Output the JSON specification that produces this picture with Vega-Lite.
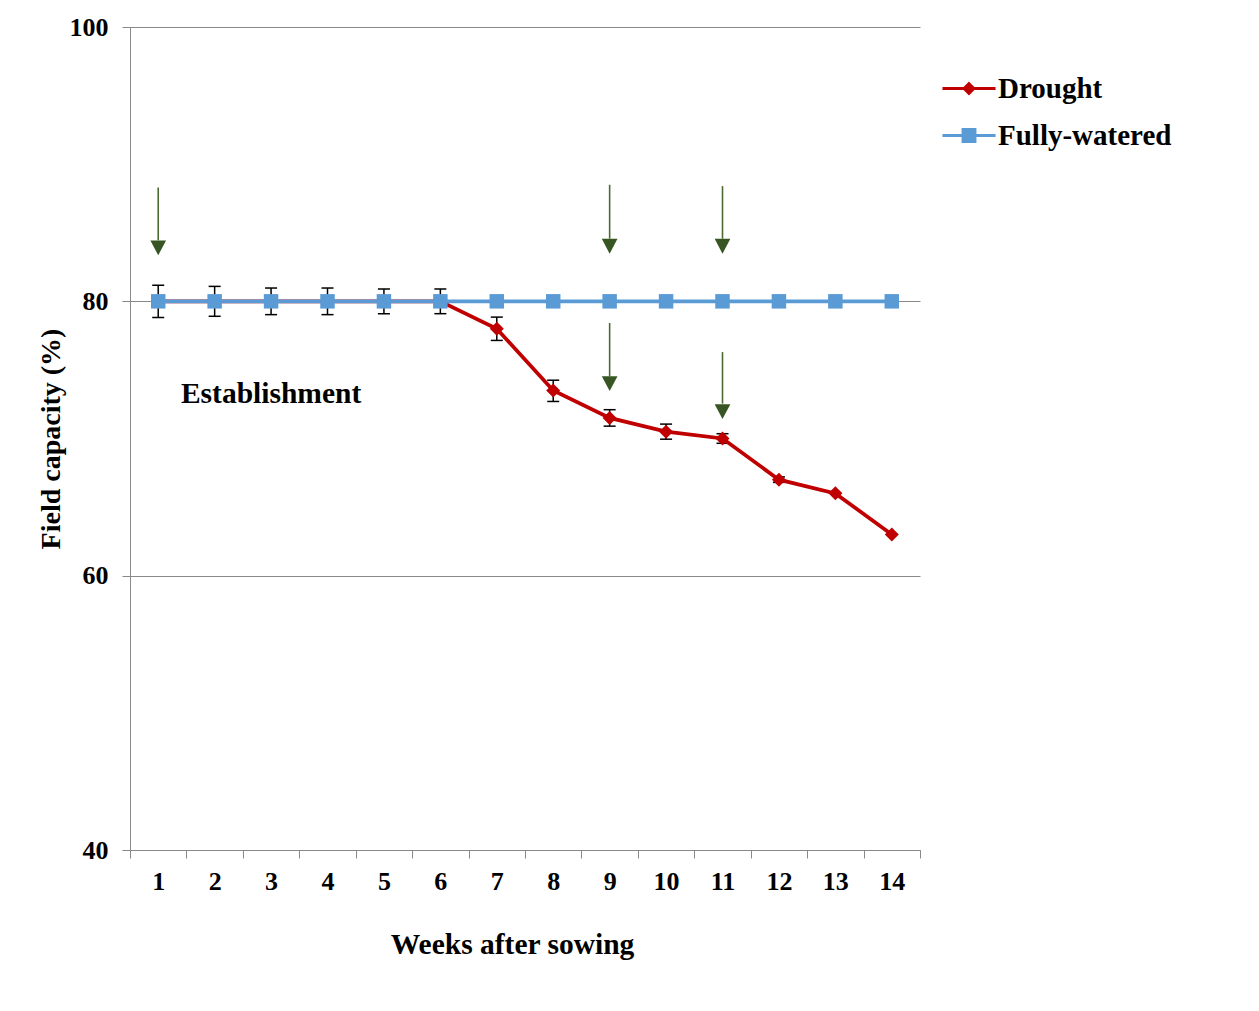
{
  "$schema": "https://vega.github.io/schema/vega-lite/v6.json",
  "autosize": {"type": "none"},
  "padding": {"left": 130, "top": 27, "right": 339, "bottom": 161},
  "width": 790,
  "height": 823,
  "background": "white",
  "config": {
    "view": {"stroke": null},
    "font": "Liberation Serif",
    "axisX": {
      "domainColor": "#898989", "tickColor": "#898989", "tickSize": 8, "tickBand": "extent",
      "labelFont": "Liberation Serif", "labelFontSize": 26, "labelFontWeight": "bold", "labelColor": "black",
      "labelAngle": 0, "labelPadding": 10, "grid": false,
      "titleFont": "Liberation Serif", "titleFontSize": 29.5, "titleFontWeight": "bold", "titleColor": "black",
      "titleX": 382, "titleY": 103, "titleBaseline": "alphabetic"
    },
    "axisY": {
      "domainColor": "#898989", "tickColor": "#898989", "tickSize": 8, "gridColor": "#898989", "grid": true,
      "labelFont": "Liberation Serif", "labelFontSize": 26, "labelFontWeight": "bold", "labelColor": "black",
      "labelPadding": 14,
      "titleFont": "Liberation Serif", "titleFontSize": 28, "titleFontWeight": "bold", "titleColor": "black",
      "titlePadding": 4
    },
    "legend": {
      "labelFont": "Liberation Serif", "labelFontSize": 29, "labelFontWeight": "bold", "labelColor": "black",
      "labelLimit": 0,
      "symbolSize": 841, "labelOffset": 13, "rowPadding": 16, "symbolStrokeWidth": 3, "symbolOpacity": 1,
      "padding": 0
    }
  },
  "datasets": {
    "series": [
      {"week": 1, "series": "Drought", "value": 80},
      {"week": 2, "series": "Drought", "value": 80},
      {"week": 3, "series": "Drought", "value": 80},
      {"week": 4, "series": "Drought", "value": 80},
      {"week": 5, "series": "Drought", "value": 80},
      {"week": 6, "series": "Drought", "value": 80},
      {"week": 7, "series": "Drought", "value": 78},
      {"week": 8, "series": "Drought", "value": 73.5},
      {"week": 9, "series": "Drought", "value": 71.5},
      {"week": 10, "series": "Drought", "value": 70.5},
      {"week": 11, "series": "Drought", "value": 70},
      {"week": 12, "series": "Drought", "value": 67},
      {"week": 13, "series": "Drought", "value": 66},
      {"week": 14, "series": "Drought", "value": 63},
      {"week": 1, "series": "Fully-watered", "value": 80},
      {"week": 2, "series": "Fully-watered", "value": 80},
      {"week": 3, "series": "Fully-watered", "value": 80},
      {"week": 4, "series": "Fully-watered", "value": 80},
      {"week": 5, "series": "Fully-watered", "value": 80},
      {"week": 6, "series": "Fully-watered", "value": 80},
      {"week": 7, "series": "Fully-watered", "value": 80},
      {"week": 8, "series": "Fully-watered", "value": 80},
      {"week": 9, "series": "Fully-watered", "value": 80},
      {"week": 10, "series": "Fully-watered", "value": 80},
      {"week": 11, "series": "Fully-watered", "value": 80},
      {"week": 12, "series": "Fully-watered", "value": 80},
      {"week": 13, "series": "Fully-watered", "value": 80},
      {"week": 14, "series": "Fully-watered", "value": 80}
    ],
    "errors": [
      {"week": 1, "series": "Fully-watered", "lo": 78.83, "hi": 81.17},
      {"week": 2, "series": "Fully-watered", "lo": 78.91, "hi": 81.09},
      {"week": 3, "series": "Fully-watered", "lo": 79.03, "hi": 80.97},
      {"week": 4, "series": "Fully-watered", "lo": 79.03, "hi": 80.97},
      {"week": 5, "series": "Fully-watered", "lo": 79.1, "hi": 80.9},
      {"week": 6, "series": "Fully-watered", "lo": 79.1, "hi": 80.9},
      {"week": 7, "series": "Drought", "lo": 77.15, "hi": 78.85},
      {"week": 8, "series": "Drought", "lo": 72.7, "hi": 74.25},
      {"week": 9, "series": "Drought", "lo": 70.9, "hi": 72.1},
      {"week": 10, "series": "Drought", "lo": 69.95, "hi": 71.05},
      {"week": 11, "series": "Drought", "lo": 69.65, "hi": 70.35},
      {"week": 12, "series": "Drought", "lo": 66.8, "hi": 67.2}
    ],
    "arrows": [
      {"week": 1, "top": 88.3, "base": 84.45, "head": 83.9},
      {"week": 9, "top": 88.5, "base": 84.57, "head": 84.02},
      {"week": 11, "top": 88.4, "base": 84.57, "head": 84.02},
      {"week": 9, "top": 78.42, "base": 74.53, "head": 74.0},
      {"week": 11, "top": 76.3, "base": 72.54, "head": 71.96}
    ],
    "notes": [
      {"week": 3, "value": 72.6, "text": "Establishment"}
    ]
  },
  "layer": [
    {
      "data": {"name": "errors"},
      "mark": {"type": "rule", "color": "black", "strokeWidth": 1.5},
      "encoding": {
        "x": {"field": "week", "type": "ordinal", "title": "Weeks after sowing",
              "scale": {"domain": [1,2,3,4,5,6,7,8,9,10,11,12,13,14], "paddingInner": 0, "paddingOuter": 0}},
        "y": {"field": "lo", "type": "quantitative", "title": "Field capacity (%)",
              "scale": {"domain": [40, 100], "nice": false, "zero": false},
              "axis": {"values": [40, 60, 80, 100]}},
        "y2": {"field": "hi"}
      }
    },
    {
      "data": {"name": "errors"},
      "mark": {"type": "tick", "color": "black", "size": 12, "thickness": 1.5, "opacity": 1},
      "encoding": {
        "x": {"field": "week", "type": "ordinal", "title": "Weeks after sowing"},
        "y": {"field": "lo", "type": "quantitative", "title": "Field capacity (%)", "axis": {"values": [40, 60, 80, 100]}}
      }
    },
    {
      "data": {"name": "errors"},
      "mark": {"type": "tick", "color": "black", "size": 12, "thickness": 1.5, "opacity": 1},
      "encoding": {
        "x": {"field": "week", "type": "ordinal", "title": "Weeks after sowing"},
        "y": {"field": "hi", "type": "quantitative", "title": "Field capacity (%)", "axis": {"values": [40, 60, 80, 100]}}
      }
    },
    {
      "data": {"name": "series"},
      "transform": [{"filter": "datum.series === 'Drought'"}],
      "mark": {"type": "line", "strokeWidth": 3.75, "color": "#C00000"},
      "encoding": {
        "x": {"field": "week", "type": "ordinal", "title": "Weeks after sowing"},
        "y": {"field": "value", "type": "quantitative", "title": "Field capacity (%)", "axis": {"values": [40, 60, 80, 100]}}
      }
    },
    {
      "data": {"name": "series"},
      "transform": [{"filter": "datum.series === 'Fully-watered'"}],
      "mark": {"type": "line", "strokeWidth": 3.75, "color": "#5B9BD5"},
      "encoding": {
        "x": {"field": "week", "type": "ordinal", "title": "Weeks after sowing"},
        "y": {"field": "value", "type": "quantitative", "title": "Field capacity (%)", "axis": {"values": [40, 60, 80, 100]}}
      }
    },
    {
      "data": {"name": "series"},
      "transform": [{"filter": "datum.series === 'Drought'"}],
      "mark": {"type": "point", "shape": "diamond", "filled": true, "size": 196, "opacity": 1, "color": "#C00000"},
      "encoding": {
        "x": {"field": "week", "type": "ordinal", "title": "Weeks after sowing"},
        "y": {"field": "value", "type": "quantitative", "title": "Field capacity (%)", "axis": {"values": [40, 60, 80, 100]}}
      }
    },
    {
      "data": {"name": "series"},
      "transform": [{"filter": "datum.series === 'Fully-watered'"}],
      "mark": {"type": "point", "shape": "square", "filled": true, "size": 210, "opacity": 1, "color": "#5B9BD5"},
      "encoding": {
        "x": {"field": "week", "type": "ordinal", "title": "Weeks after sowing"},
        "y": {"field": "value", "type": "quantitative", "title": "Field capacity (%)", "axis": {"values": [40, 60, 80, 100]}}
      }
    },
    {
      "data": {"name": "arrows"},
      "mark": {"type": "rule", "color": "#4A6B30", "strokeWidth": 1.6},
      "encoding": {
        "x": {"field": "week", "type": "ordinal", "title": "Weeks after sowing"},
        "y": {"field": "top", "type": "quantitative", "title": "Field capacity (%)", "axis": {"values": [40, 60, 80, 100]}},
        "y2": {"field": "base"}
      }
    },
    {
      "data": {"name": "arrows"},
      "mark": {"type": "point", "shape": "M-1,-0.95L1,-0.95L0,0.95Z", "filled": true, "size": 246, "color": "#375623", "opacity": 1},
      "encoding": {
        "x": {"field": "week", "type": "ordinal", "title": "Weeks after sowing"},
        "y": {"field": "head", "type": "quantitative", "title": "Field capacity (%)", "axis": {"values": [40, 60, 80, 100]}}
      }
    },
    {
      "data": {"name": "notes"},
      "mark": {"type": "text", "font": "Liberation Serif", "fontSize": 29.5, "fontWeight": "bold", "color": "black", "align": "center", "baseline": "alphabetic"},
      "encoding": {
        "x": {"field": "week", "type": "ordinal", "title": "Weeks after sowing"},
        "y": {"field": "value", "type": "quantitative", "title": "Field capacity (%)", "axis": {"values": [40, 60, 80, 100]}},
        "text": {"field": "text"}
      }
    },
    {
      "data": {"name": "series"},
      "transform": [{"filter": "datum.week > 100"}],
      "mark": {"type": "point", "filled": true, "strokeWidth": 3},
      "encoding": {
        "x": {"field": "week", "type": "ordinal", "title": "Weeks after sowing"},
        "y": {"field": "value", "type": "quantitative", "title": "Field capacity (%)", "axis": {"values": [40, 60, 80, 100]}},
        "fill": {"field": "series", "type": "nominal",
                 "scale": {"domain": ["Drought", "Fully-watered"], "range": ["#C00000", "#5B9BD5"]},
                 "legend": {"title": null, "orient": "none", "legendX": 823, "legendY": 45.5}},
        "stroke": {"field": "series", "type": "nominal",
                   "scale": {"domain": ["Drought", "Fully-watered"], "range": ["#C00000", "#5B9BD5"]},
                   "legend": {"title": null, "orient": "none", "legendX": 823, "legendY": 45.5}},
        "shape": {"field": "series", "type": "nominal",
                  "scale": {"domain": ["Drought", "Fully-watered"],
                            "range": ["M-1.83,0H1.83M0,-0.33L0.33,0L0,0.33L-0.33,0Z", "M-1.83,0H1.83M-0.41,-0.41H0.41V0.41H-0.41Z"]},
                  "legend": {"title": null, "orient": "none", "legendX": 823, "legendY": 45.5}}
      }
    }
  ]
}
